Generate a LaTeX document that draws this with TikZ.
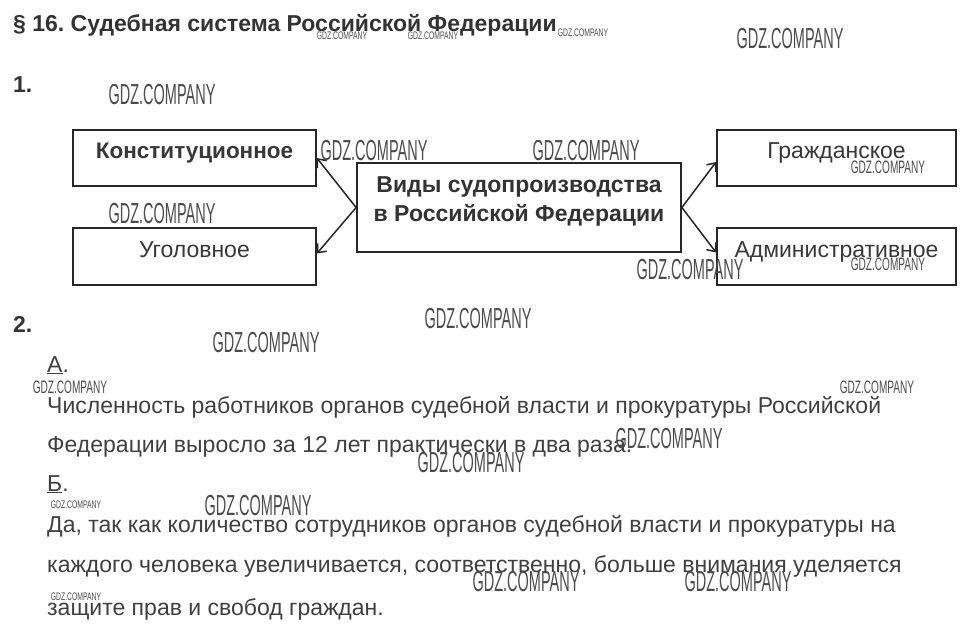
\documentclass[tikz,border=0pt]{standalone}
\usepackage{fontspec}
\setmainfont{Liberation Sans}
\usetikzlibrary{arrows.meta}
\newcommand{\gdz}[1]{\scalebox{#1}[1]{GDZ.COMPANY}}
\frenchspacing
\begin{document}
\begin{tikzpicture}[x=1pt,y=-1pt,
        box/.style={draw=black!85,line width=1.8pt,minimum width=243pt,minimum height=56pt,
            inner sep=0pt,text height=16pt,text depth=14.5pt,text=black!78,font=\fontsize{23}{23}\selectfont},
        arr/.style={-{Straight Barb[length=7pt,width=12pt]},line width=1.5pt,draw=black!85},
        txt/.style={anchor=base west,inner sep=0pt,text=black!75,font=\fontsize{23}{23}\selectfont},
        head/.style={anchor=base west,inner sep=0pt,text=black!80,font=\bfseries\fontsize{23}{23}\selectfont},
        wmbig/.style={inner sep=0pt,text=black!70,font=\fontsize{29}{29}\selectfont},
        wmmid/.style={inner sep=0pt,text=black!70,font=\fontsize{18}{18}\selectfont},
        wmsmall/.style={inner sep=0pt,text=black!70,font=\fontsize{11}{11}\selectfont}]
    \useasboundingbox[fill=white] (0,0) rectangle (967,635);

    \node[head] (title) at (13,31) {§ 16. Судебная система Российской Федерации};
    \node[head] (one) at (13,92) {1.};

    \node[box,font=\bfseries\fontsize{22.5}{22.5}\selectfont] (konst) at (194.5,158) {Конституционное};
    \node[box,minimum height=57pt] (ugol) at (194.5,256.5) {Уголовное};
    \node[box,minimum width=239pt] (grazh) at (836.5,158) {Гражданское};
    \node[box,minimum width=239pt,minimum height=57pt] (admin) at (836.5,256.5) {Административное};
    \node[draw=black!85,line width=1.8pt,minimum width=324pt,minimum height=89pt] (vidy) at (519,207.5) {};
    \node[align=center,text=black!80,font=\bfseries\fontsize{23}{29}\selectfont] (vidytxt) at (519,201)
        {Виды судопроизводства\\в Российской Федерации};

    \draw[arr] (vidy.west) -- (konst.east);
    \draw[arr] (vidy.west) -- ([yshift=3pt]ugol.east);
    \draw[arr] (vidy.east) -- ([yshift=-4pt]grazh.west);
    \draw[arr] (vidy.east) -- ([yshift=4pt]admin.west);

    \node[head] (two) at (13,332) {2.};
    \node[txt] (a) at (47,372) {\underline{А}.};
    \node[txt] (a1) at (47,413) {Численность работников органов судебной власти и прокуратуры Российской};
    \node[txt] (a2) at (47,452) {Федерации выросло за 12 лет практически в два раза.};
    \node[txt] (b) at (47,491) {\underline{Б}.};
    \node[txt] (b1) at (47,532) {Да, так как количество сотрудников органов судебной власти и прокуратуры на};
    \node[txt] (b2) at (47,572) {каждого человека увеличивается, соответственно, больше внимания уделяется};
    \node[txt] (b3) at (47,615) {защите прав и свобод граждан.};

    % watermarks
    \foreach \wx/\wy [count=\i] in {790/39,162/95,374/151,586/151,162/214,690/270,478/319,
            266/343,669/439,471/463,258/506,526/582,738/582}
        \node[wmbig] (wb\i) at (\wx,\wy) {\gdz{0.5}};
    \foreach \wx/\wy [count=\i] in {888/167,888/264,70/387,877/387}
        \node[wmmid] (wm\i) at (\wx,\wy) {\gdz{0.56}};
    \foreach \wx/\wy [count=\i] in {342/36,433/36,583/33,76/505,76/597}
        \node[wmsmall] (ws\i) at (\wx,\wy) {\gdz{0.62}};
\end{tikzpicture}
\end{document}
